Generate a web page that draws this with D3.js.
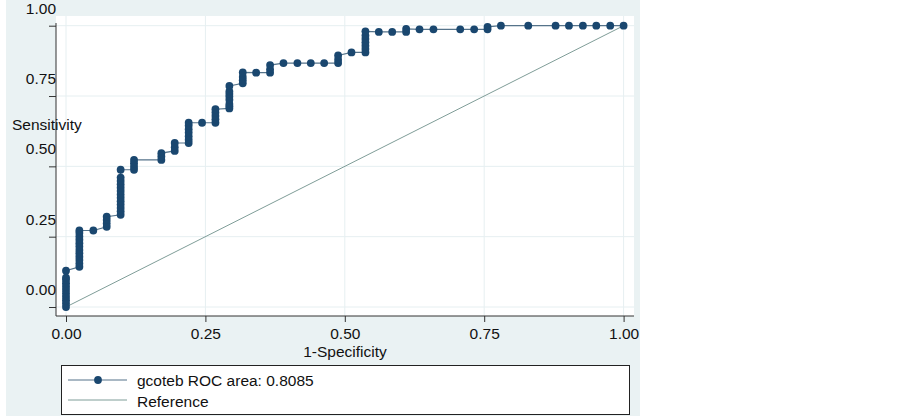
<!DOCTYPE html>
<html>
<head>
<meta charset="utf-8">
<script src="https://cdn.jsdelivr.net/npm/d3@7"></script>
<style>
  body { margin: 0; background: #ffffff; }
  text { font-family: "Liberation Sans", Arial, sans-serif; fill: #111; }
</style>
</head>
<body>
<div id="chart"></div>
<script>

// 1-specificity of each column of roc points
var specX = [0.000, 0.024, 0.049, 0.073, 0.098, 0.122, 0.171, 0.195, 0.220, 0.244,
	0.268, 0.293, 0.317, 0.341, 0.366, 0.390, 0.415, 0.439, 0.463, 0.488,
	0.512, 0.537, 0.561, 0.585, 0.610, 0.634, 0.659, 0.707, 0.732, 0.756,
	0.780, 0.829, 0.878, 0.902, 0.927, 0.951, 0.976, 1.000];

// sensitivity values found at each of those columns
var sensCols = [
	[0.000, 0.012, 0.024, 0.036, 0.048, 0.060, 0.072, 0.084, 0.096, 0.104, 0.129],
	[0.143, 0.155, 0.167, 0.179, 0.191, 0.203, 0.215, 0.227, 0.239, 0.251, 0.263, 0.272],
	[0.272],
	[0.285, 0.297, 0.309, 0.321],
	[0.328, 0.340, 0.352, 0.364, 0.376, 0.388, 0.400, 0.412, 0.424, 0.436, 0.448, 0.460, 0.488],
	[0.488, 0.499, 0.511, 0.523],
	[0.523, 0.535, 0.547],
	[0.555, 0.568, 0.583],
	[0.583, 0.595, 0.607, 0.620, 0.632, 0.645, 0.655],
	[0.655],
	[0.655, 0.667, 0.679, 0.691, 0.703],
	[0.706, 0.714, 0.722, 0.737, 0.748, 0.757, 0.766, 0.786],
	[0.795, 0.806, 0.818, 0.834],
	[0.833],
	[0.833, 0.845, 0.860],
	[0.867], [0.867], [0.867], [0.867],
	[0.867, 0.879, 0.894],
	[0.905],
	[0.905, 0.917, 0.929, 0.941, 0.953, 0.965, 0.980],
	[0.978], [0.978],
	[0.978, 0.989],
	[0.987], [0.987], [0.987], [0.987],
	[0.987, 0.996],
	[1.000], [1.000], [1.000], [1.000], [1.000], [1.000], [1.000], [1.000]
];

var tickVals = [0, 0.25, 0.5, 0.75, 1];
var legendLabels = ["gcoteb ROC area: 0.8085", "Reference"];
var xTitle = "1-Specificity", yTitle = "Sensitivity";

// sizes
var width = 903, height = 418,
	plot = {left: 56, top: 16, right: 634, bottom: 316},
	fontSize = "15.5px";

var svg = d3.select("#chart").append("svg")
	.attr("width", width)
	.attr("height", height);

// graph region and plot region backgrounds
svg.append("rect")
	.attr("x", 6).attr("y", 0)
	.attr("width", 634).attr("height", 416)
	.style("fill", "#eaf2f3");

svg.append("rect")
	.attr("x", plot.left).attr("y", plot.top)
	.attr("width", plot.right - plot.left).attr("height", plot.bottom - plot.top)
	.style("fill", "#ffffff");

var x = d3.scaleLinear().domain([0, 1]).range([66, 623.6]),
	y = d3.scaleLinear().domain([0, 1]).range([307, 25.7]);

// gridlines
svg.append("g").selectAll("line")
	.data(tickVals)
	.enter().append("line")
	.attr("x1", plot.left).attr("x2", plot.right)
	.attr("y1", function(d){ return y(d); })
	.attr("y2", function(d){ return y(d); })
	.style("stroke", "#e6eff1");

svg.append("g").selectAll("line")
	.data(tickVals)
	.enter().append("line")
	.attr("y1", plot.top).attr("y2", plot.bottom)
	.attr("x1", function(d){ return x(d); })
	.attr("x2", function(d){ return x(d); })
	.style("stroke", "#e6eff1");

// y axis
var yAxis = svg.append("g")
	.attr("transform", "translate(" + plot.left + ",0)")
	.call(d3.axisLeft(y).tickValues(tickVals).tickFormat(d3.format(".2f")).tickSize(7));
yAxis.select(".domain").remove();
yAxis.selectAll(".tick line").style("stroke", "#333");
yAxis.selectAll(".tick text")
	.attr("x", 0)
	.attr("y", -18)
	.attr("dy", "0.35em")
	.style("font-size", fontSize)
	.style("font-family", "Liberation Sans, Arial, sans-serif")
	.style("fill", "#111");

svg.append("line")
	.attr("x1", plot.left).attr("x2", plot.left)
	.attr("y1", 23).attr("y2", plot.bottom)
	.style("stroke", "#333");

// x axis
var xAxis = svg.append("g")
	.attr("transform", "translate(0," + plot.bottom + ")")
	.call(d3.axisBottom(x).tickValues(tickVals).tickFormat(d3.format(".2f")).tickSize(6));
xAxis.select(".domain").remove();
xAxis.selectAll(".tick line").style("stroke", "#333");
xAxis.selectAll(".tick text")
	.attr("y", 23)
	.attr("dy", 0)
	.style("font-size", fontSize)
	.style("font-family", "Liberation Sans, Arial, sans-serif")
	.style("fill", "#111");

svg.append("line")
	.attr("x1", plot.left).attr("x2", plot.right)
	.attr("y1", plot.bottom).attr("y2", plot.bottom)
	.style("stroke", "#333");

// axis titles
svg.append("text")
	.attr("x", (plot.left + plot.right) / 2)
	.attr("y", 357)
	.attr("text-anchor", "middle")
	.style("font-size", fontSize)
	.text(xTitle);

svg.append("text")
	.attr("x", 12)
	.attr("y", 130)
	.style("font-size", fontSize)
	.text(yTitle);

// flatten the columns into roc points
var points = [];
specX.forEach(function(sx, i){
	sensCols[i].forEach(function(s){
		points.push({fpr: sx, sens: s});
	});
});

// reference line
svg.append("line")
	.attr("x1", x(0)).attr("y1", y(0))
	.attr("x2", x(1)).attr("y2", y(1))
	.style("stroke", "#7f9d98")
	.style("stroke-width", 1);

// roc curve line
var line = d3.line()
	.x(function(d){ return x(d.fpr); })
	.y(function(d){ return y(d.sens); });

svg.append("path")
	.datum(points)
	.attr("d", line)
	.style("fill", "none")
	.style("stroke", "#55738a")
	.style("stroke-width", 1.2);

// roc markers
svg.append("g").selectAll("circle")
	.data(points)
	.enter().append("circle")
	.attr("cx", function(d){ return x(d.fpr); })
	.attr("cy", function(d){ return y(d.sens); })
	.attr("r", 3.9)
	.style("fill", "#1a476f");

// legend
var legend = svg.append("g");

legend.append("rect")
	.attr("x", 61.5).attr("y", 365.5)
	.attr("width", 568).attr("height", 49)
	.style("fill", "#ffffff")
	.style("stroke", "#222");

legend.append("line")
	.attr("x1", 68).attr("x2", 127)
	.attr("y1", 380).attr("y2", 380)
	.style("stroke", "#55738a")
	.style("stroke-width", 1.2);

legend.append("circle")
	.attr("cx", 98).attr("cy", 380)
	.attr("r", 3.9)
	.style("fill", "#1a476f");

legend.append("line")
	.attr("x1", 68).attr("x2", 127)
	.attr("y1", 400).attr("y2", 400)
	.style("stroke", "#7f9d98");

legend.selectAll(".lab")
	.data(legendLabels)
	.enter().append("text")
	.attr("class", "lab")
	.attr("x", 137)
	.attr("y", function(d, i){ return 386 + i * 20.5; })
	.style("font-size", fontSize)
	.text(function(d){ return d; });

</script>
</body>
</html>
